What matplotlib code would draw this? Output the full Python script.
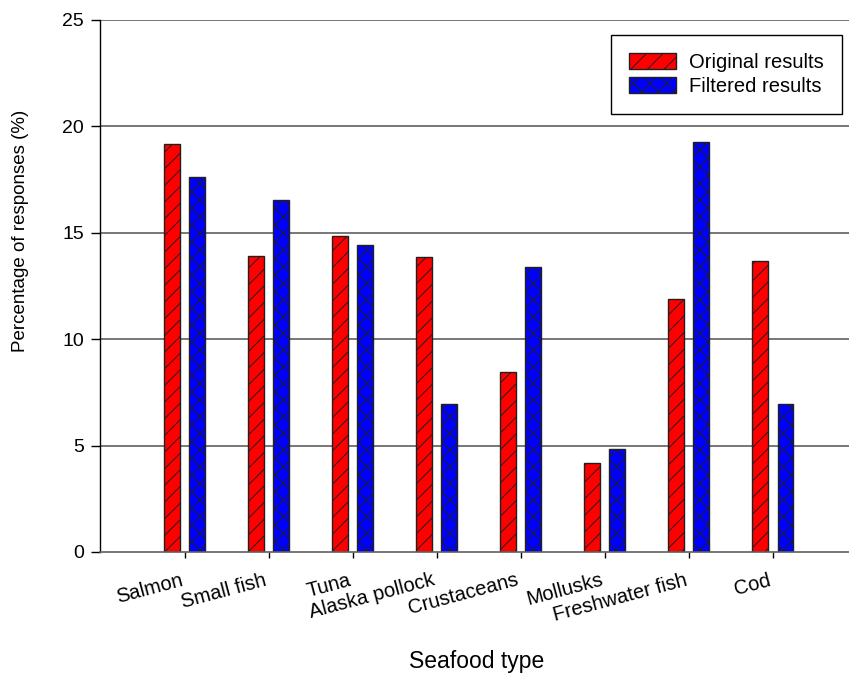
import matplotlib
matplotlib.use("Agg")
import matplotlib.pyplot as plt
import numpy as np

categories = ["Salmon", "Small fish", "Tuna", "Alaska pollock", "Crustaceans",
              "Mollusks", "Freshwater fish", "Cod"]
original = [19.15, 13.92, 14.86, 13.86, 8.48, 4.18, 11.89, 13.68]
filtered = [17.62, 16.55, 14.43, 6.96, 13.38, 4.84, 19.28, 6.96]
series_names = ["Original results", "Filtered results"]
yticks = [0, 5, 10, 15, 20, 25]

plt.rcParams['font.family'] = ['Liberation Sans', 'DejaVu Sans']
plt.rcParams['hatch.linewidth'] = 0.7
plt.rcParams['hatch.color'] = 'black'

fig = plt.figure(figsize=(8.49, 6.74), dpi=100)
ax = fig.add_axes([100/849, 122/674, 749/849, 532/674])

x = np.arange(len(categories))
w = 0.19
off = 0.149
ax.set_axisbelow(True)
for yv in yticks[1:]:
    ax.axhline(yv, color='#606060', lw=1.2, zorder=0)
ax.bar(x - off, original, width=w, color='#ff0000', edgecolor='#202020',
       linewidth=1.0, hatch='//', label=series_names[0], zorder=2)
ax.bar(x + off, filtered, width=w, color='#0000ff', edgecolor='#202020',
       linewidth=1.0, hatch='xx', label=series_names[1], zorder=2)

ax.set_xlim(-1.01, len(categories) - 1 + 0.905)
ax.set_ylim(0, 25)
ax.set_yticks(yticks)
ax.set_xticks(x)
ax.set_xticklabels(categories, rotation=15, ha='right', va='top', fontsize=14.5)
ax.tick_params(axis='y', labelsize=14, length=6.5, width=1, direction='out', pad=5)
ax.tick_params(axis='x', length=4.3, width=1, direction='out', pad=9)

for s in ['top', 'right']:
    ax.spines[s].set_visible(False)
ax.spines['left'].set_color('black')
ax.spines['left'].set_linewidth(1.0)
ax.spines['bottom'].set_color('#606060')
ax.spines['bottom'].set_linewidth(1.2)

ax.set_ylabel("Percentage of responses (%)", fontsize=13.5)
ax.yaxis.set_label_coords(-0.095, 0.603)
ax.set_xlabel("Seafood type", fontsize=16.5)
ax.xaxis.set_label_coords(0.503, -0.184)

leg = ax.legend(loc='upper right', bbox_to_anchor=(0.990, 0.972), fontsize=14.5,
                frameon=True, fancybox=False, edgecolor='black', framealpha=1,
                handlelength=2.3, handleheight=0.8, handletextpad=0.65,
                borderpad=0.9, labelspacing=0.25, borderaxespad=0)
leg.get_frame().set_linewidth(1.0)

fig.savefig("out.png", dpi=100)
